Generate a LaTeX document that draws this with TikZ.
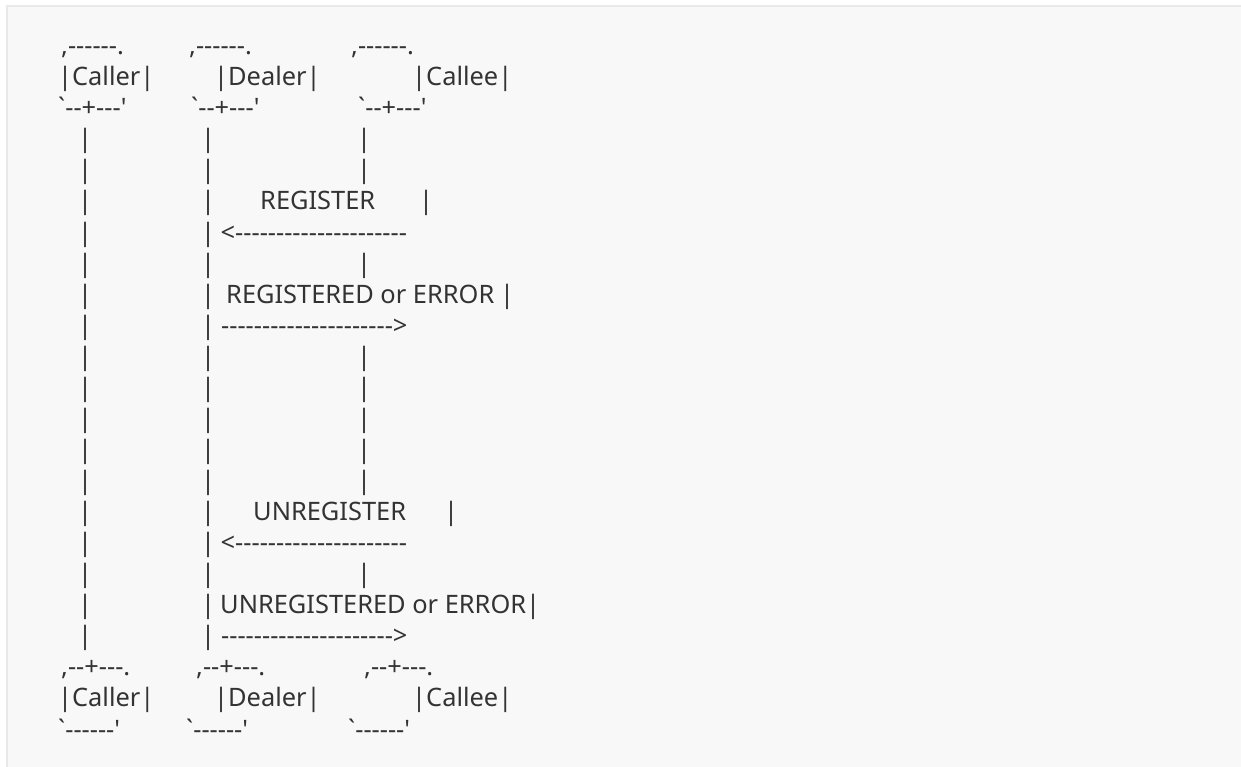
\documentclass[tikz,border=0pt]{standalone}
\usepackage{fontspec}
\setmainfont{Noto Sans}[Ligatures=TeXOff]
\definecolor{ink}{HTML}{333333}
\definecolor{panel}{HTML}{F8F8F8}
\definecolor{rim}{HTML}{E9E9E9}
\tikzset{
  ascii/.style={anchor=base west, inner sep=0pt, text=ink,
    font=\fontsize{25.4}{31}\selectfont},
  bar/.style={ascii, anchor=base},
}
\newcommand\rowy[1]{54.7+31.06*(#1-1)}

\begin{document}
\begin{tikzpicture}[x=1pt, y=-1pt]
\useasboundingbox (0,0) rectangle (1241,767);
\fill[panel, draw=rim, line width=2pt] (6.5,6) rectangle (1270,800);

% participants, top
\node[ascii] (callerTopA) at (61,{\rowy{1}}) {,------.};
\node[ascii] (callerTop)  at (58,{\rowy{2}}) {|Caller|};
\node[ascii] (callerTopC) at (58,{\rowy{3}}) {`--+---'};
\node[ascii] (dealerTopA) at (189,{\rowy{1}}) {,------.};
\node[ascii] (dealerTop)  at (214,{\rowy{2}}) {|Dealer|};
\node[ascii] (dealerTopC) at (191,{\rowy{3}}) {`--+---'};
\node[ascii] (calleeTopA) at (351,{\rowy{1}}) {,------.};
\node[ascii] (calleeTop)  at (412,{\rowy{2}}) {|Callee|};
\node[ascii] (calleeTopC) at (358,{\rowy{3}}) {`--+---'};

% lifelines
\foreach \r in {4,...,20} {
  \node[bar] (callerLife\r) at (85,{\rowy{\r}}) {|};
  \node[bar] (dealerLife\r) at (208,{\rowy{\r}}) {|};
}
\foreach \r in {4,5,8,11,12,13,14,15,18}
  \node[bar] (calleeLife\r) at (364,{\rowy{\r}}) {|};

% register
\node[ascii] (reg)    at (260,{\rowy{6}}) {REGISTER};
\node[bar]   (regEnd) at (426,{\rowy{6}}) {|};
\node[ascii] (regIn)  at (220.5,{\rowy{7}}) {<---------------------};
\node[ascii] (regd)   at (226,{\rowy{9}}) {REGISTERED or ERROR};
\node[bar]   (regdEnd) at (507,{\rowy{9}}) {|};
\node[ascii] (regOut) at (221,{\rowy{10}}) {--------------------->};

% unregister
\node[ascii] (unreg)    at (253,{\rowy{16}}) {UNREGISTER};
\node[bar]   (unregEnd) at (451,{\rowy{16}}) {|};
\node[ascii] (unregIn)  at (220.5,{\rowy{17}}) {<---------------------};
\node[ascii] (unregd)   at (220,{\rowy{19}}) {UNREGISTERED or ERROR|};
\node[ascii] (unregOut) at (221,{\rowy{20}}) {--------------------->};

% participants, bottom
\node[ascii] (callerBotA) at (61,{\rowy{21}}) {,--+---.};
\node[ascii] (callerBot)  at (58,{\rowy{22}}) {|Caller|};
\node[ascii] (callerBotC) at (58,{\rowy{23}}) {`------'};
\node[ascii] (dealerBotA) at (196,{\rowy{21}}) {,--+---.};
\node[ascii] (dealerBot)  at (214,{\rowy{22}}) {|Dealer|};
\node[ascii] (dealerBotC) at (186,{\rowy{23}}) {`------'};
\node[ascii] (calleeBotA) at (364,{\rowy{21}}) {,--+---.};
\node[ascii] (calleeBot)  at (412,{\rowy{22}}) {|Callee|};
\node[ascii] (calleeBotC) at (348,{\rowy{23}}) {`------'};
\end{tikzpicture}
\end{document}
